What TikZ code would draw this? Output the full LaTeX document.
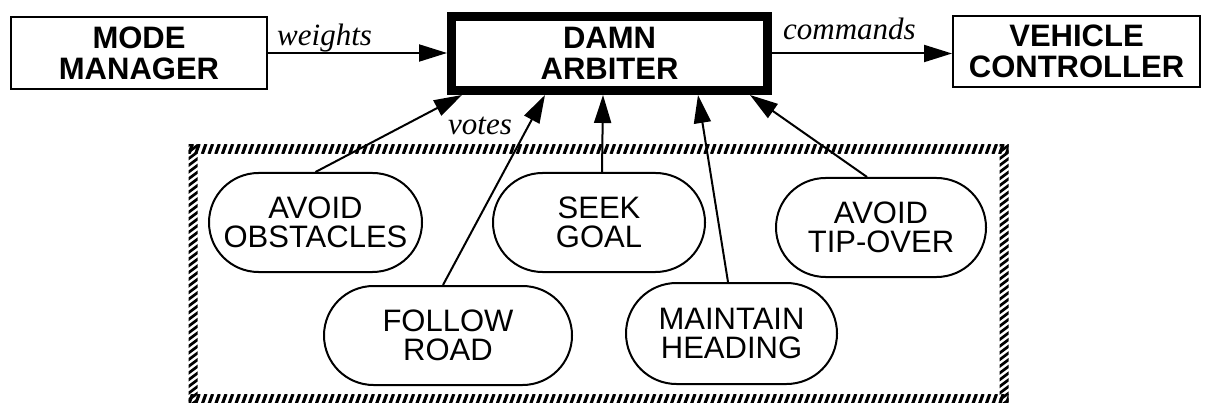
\documentclass[tikz,border=0pt]{standalone}
\usepackage{fontspec}
\setmainfont{Liberation Serif}
\newfontfamily\hv{Liberation Sans}
\usetikzlibrary{arrows.meta,shapes.misc}
\tikzset{
  boxtext/.style={font=\hv\bfseries\fontsize{31}{31}\selectfont, align=center},
  plainbox/.style={draw, line width=2pt, rectangle, boxtext, inner sep=0pt},
  arbiter/.style={draw, line width=9pt, rectangle, boxtext, inner sep=0pt},
  behav/.style={draw, line width=2pt, rounded rectangle, fill=white, align=center,
    font=\hv\fontsize{31}{29}\selectfont, inner sep=0pt, minimum height=99pt},
  lbl/.style={font=\itshape\fontsize{31}{31}\selectfont, inner sep=0pt, anchor=base west},
  arr/.style={line width=2pt, -{Triangle[length=28pt,width=17pt]}},
  hatchh/.style={line width=3.1pt},
  hatchv/.style={line width=2.7pt}
}
\begin{document}
\begin{tikzpicture}[x=1pt,y=-1pt]
\useasboundingbox (0,0) rectangle (1206,403);
% hatched frame
\begin{scope}
  \clip (188.5,144.5) rectangle (1008.5,153.5);
  \foreach \i in {0,...,124} \draw[hatchh] ({184+6.7*\i-1.8},154) -- ({184+6.7*\i+1.8},144);
\end{scope}
\begin{scope}
  \clip (188.5,394.5) rectangle (1008.5,403.5);
  \foreach \i in {0,...,124} \draw[hatchh] ({184+6.7*\i-1.8},404) -- ({184+6.7*\i+1.8},394);
\end{scope}
\begin{scope}
  \clip (188.5,144.5) rectangle (197.5,403.5);
  \foreach \i in {0,...,40} \draw[hatchv] (187,{142+6.7*\i+4.5}) -- (199,{142+6.7*\i-4.5});
\end{scope}
\begin{scope}
  \clip (999.5,144.5) rectangle (1008.5,403.5);
  \foreach \i in {0,...,40} \draw[hatchv] (998,{142+6.7*\i+4.5}) -- (1010,{142+6.7*\i-4.5});
\end{scope}
% top row
\node[plainbox, minimum width=256pt, minimum height=72pt] (mm) at (139,53) {MODE\\MANAGER};
\node[arbiter, minimum width=316pt, minimum height=74pt] (damn) at (609.5,53.5) {DAMN\\ARBITER};
\node[plainbox, minimum width=247pt, minimum height=71pt] (veh) at (1076.5,51.5) {VEHICLE\\CONTROLLER};
\draw[arr] (mm.east) -- (mm.east -| damn.west);
\draw[arr] (damn.east) -- (damn.east -| veh.west);
\node[lbl] (lw) at (277,46) {weights};
\node[lbl] (lc) at (783,40) {commands};
\node[lbl] (lv) at (448,135) {votes};
% behaviours
\node[behav, minimum width=213pt] (obst) at (315.5,222.5) {AVOID\\OBSTACLES};
\node[behav, minimum width=212pt] (seek) at (599,222.5) {SEEK\\GOAL};
\node[behav, minimum width=210pt] (tip) at (881,227.5) {AVOID\\TIP-OVER};
\node[behav, minimum width=248pt] (road) at (448,335.5) {FOLLOW\\ROAD};
\node[behav, minimum width=211pt, minimum height=101pt] (head) at (731.5,333.5) {MAINTAIN\\HEADING};
% votes
\draw[arr] (obst.north) -- ([xshift=15pt]damn.south west);
\draw[arr] ([xshift=-5pt]road.north) -- ([xshift=98pt]damn.south west);
\draw[arr] ([xshift=3pt]seek.north) -- ([xshift=156pt]damn.south west);
\draw[arr] ([xshift=-3.5pt]head.north) -- ([xshift=251pt]damn.south west);
\draw[arr] ([xshift=-14pt]tip.north) -- ([xshift=303pt]damn.south west);
\end{tikzpicture}
\end{document}
